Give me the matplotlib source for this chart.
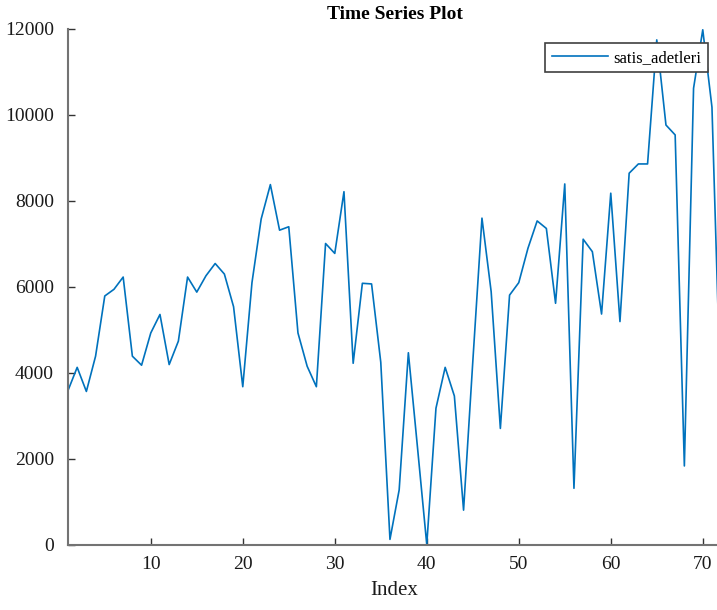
import numpy as np
import matplotlib.pyplot as plt

# satis_adetleri values (index starts at 1)
satis_adetleri = [
    3590, 4130, 3570, 4390, 5790, 5945, 6230, 4390, 4180, 4930,
    5360, 4195, 4740, 6230, 5880, 6260, 6545, 6300, 5540, 3680,
    6100, 7580, 8380, 7320, 7400, 4930, 4155, 3680, 7010, 6780,
    8215, 4225, 6085, 6070, 4250, 130, 1280, 4470, 2250, 10,
    3180, 4130, 3465, 810, 4250, 7600, 5890, 2710, 5810, 6100,
    6900, 7535, 7360, 5620, 8395, 1318, 7110, 6820, 5370, 8180,
    5195, 8645, 8860, 8860, 11745, 9765, 9535, 1837, 10620, 11980,
    10180, 3000,
]
index = np.arange(1, len(satis_adetleri) + 1)

x_ticks = [10, 20, 30, 40, 50, 60, 70]
y_ticks = [0, 2000, 4000, 6000, 8000, 10000, 12000]

plt.rcParams['font.family'] = ['Liberation Serif', 'DejaVu Serif']

fig = plt.figure(figsize=(7.17, 6.10), dpi=100)
ax = fig.add_axes([0.0948, 0.1066, 0.911, 0.846])

ax.plot(index, satis_adetleri, color='#0072BD', linewidth=1.2, label='satis_adetleri')

ax.set_xlim(1, 72)
ax.set_ylim(0, 12000)
ax.set_xticks(x_ticks)
ax.set_yticks(y_ticks)

for s in ['top', 'right']:
    ax.spines[s].set_visible(False)
for s in ['left', 'bottom']:
    ax.spines[s].set_color('0.45')
    ax.spines[s].set_linewidth(1.5)
ax.tick_params(direction='in', length=5, width=1, color='0.2',
               labelsize=14, labelcolor='0.1')
ax.tick_params(axis='y', pad=10)
ax.tick_params(axis='x', pad=8)

ax.set_xlabel('Index', fontsize=15, color='0.1', labelpad=6)
ax.set_title('Time Series Plot', fontsize=14, fontweight='bold', pad=7)

leg = ax.legend(loc='upper right', bbox_to_anchor=(708 / 717, 1 - 43 / 610),
                bbox_transform=fig.transFigure, borderaxespad=0,
                fontsize=12, fancybox=False, framealpha=1,
                handlelength=3.4, handletextpad=0.3, borderpad=0.4)
leg.get_frame().set_edgecolor('0.25')
leg.get_frame().set_linewidth(1.2)

fig.savefig('out.png', dpi=100)
